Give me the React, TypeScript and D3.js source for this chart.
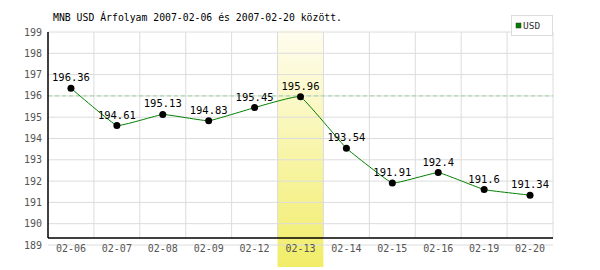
import React from "react";
import * as d3 from "d3";

const categories = ["02-06", "02-07", "02-08", "02-09", "02-12", "02-13", "02-14", "02-15", "02-16", "02-19", "02-20"];
const values = [196.36, 194.61, 195.13, 194.83, 195.45, 195.96, 193.54, 191.91, 192.4, 191.6, 191.34];
const valueLabels = ["196.36", "194.61", "195.13", "194.83", "195.45", "195.96", "193.54", "191.91", "192.4", "191.6", "191.34"];
const yTicks = [189, 190, 191, 192, 193, 194, 195, 196, 197, 198, 199];
const highlightCategory = "02-13";
const referenceValue = 196;
const title = "MNB USD Árfolyam 2007-02-06 és 2007-02-20 között.";
const legendLabel = "USD";

const W = 600, H = 270;
const L = 48, R = 553, T = 32, B = 238;
const font = "'DejaVu Sans Mono', monospace";

export default function App() {
  const x = d3.scaleBand<string>().domain(categories).range([L, R]);
  const y = d3.scaleLinear().domain([189, 199]).range([245, T]);
  const cx = (c: string) => (x(c) as number) + x.bandwidth() / 2;
  const line = d3
    .line<number>()
    .x((_, i) => cx(categories[i]))
    .y((v) => y(v))
    .curve(d3.curveCardinal.tension(0.75));
  const hx = x(highlightCategory) as number;

  return (
    <svg width={W} height={H} style={{ position: "absolute", left: 0, top: 0, background: "#fff" }}>
      <defs>
        <linearGradient id="hl" x1="0" y1="0" x2="0" y2="1">
          <stop offset="0%" stopColor="#fffdf0" />
          <stop offset="100%" stopColor="#f1ed68" />
        </linearGradient>
      </defs>
      <rect x={0} y={0} width={W} height={H} fill="#fff" />
      <rect x={hx} y={30} width={x.bandwidth()} height={237} fill="url(#hl)" />
      {yTicks.map((t) => (
        <line key={t} x1={L} x2={R} y1={y(t)} y2={y(t)} stroke="#dcdcdc" strokeWidth={1} />
      ))}
      {categories.slice(1).map((c) => (
        <line key={c} x1={x(c) as number} x2={x(c) as number} y1={T} y2={B} stroke="#dcdcdc" strokeWidth={1} />
      ))}
      <line x1={R} x2={R} y1={T} y2={B} stroke="#dcdcdc" strokeWidth={1} />
      <line x1={L} x2={R} y1={y(referenceValue)} y2={y(referenceValue)} stroke="#9fd49f" strokeWidth={1} strokeDasharray="4,3" />
      <line x1={L} x2={L} y1={T} y2={B} stroke="#000" strokeWidth={1.5} />
      <line x1={L} x2={R} y1={B} y2={B} stroke="#000" strokeWidth={1.5} />
      {yTicks.map((t) => (
        <text key={t} x={42} y={y(t)} dy="0.35em" textAnchor="end" fontFamily={font} fontSize={10} fill="#555">
          {t}
        </text>
      ))}
      {categories.map((c) => (
        <text key={c} x={cx(c)} y={252} textAnchor="middle" fontFamily={font} fontSize={10} fill="#555">
          {c}
        </text>
      ))}
      <path d={line(values) || ""} fill="none" stroke="#008000" strokeWidth={1} />
      {values.map((v, i) => (
        <circle key={i} cx={cx(categories[i])} cy={y(v)} r={3.5} fill="#000" />
      ))}
      {values.map((v, i) => (
        <text key={i} x={cx(categories[i])} y={y(v) - 7} textAnchor="middle" fontFamily={font} fontSize={10.5} fill="#000">
          {valueLabels[i]}
        </text>
      ))}
      <text x={53} y={21} fontFamily={font} fontSize={9.8} fill="#000">{title}</text>
      <rect x={511.5} y={15.5} width={41} height={20} fill="#fff" stroke="#dcdcdc" />
      <rect x={516} y={23} width={5} height={5} fill="#008000" stroke="#333" strokeWidth={0.5} />
      <text x={523} y={29} fontFamily={font} fontSize={9.5} fill="#333">{legendLabel}</text>
    </svg>
  );
}
